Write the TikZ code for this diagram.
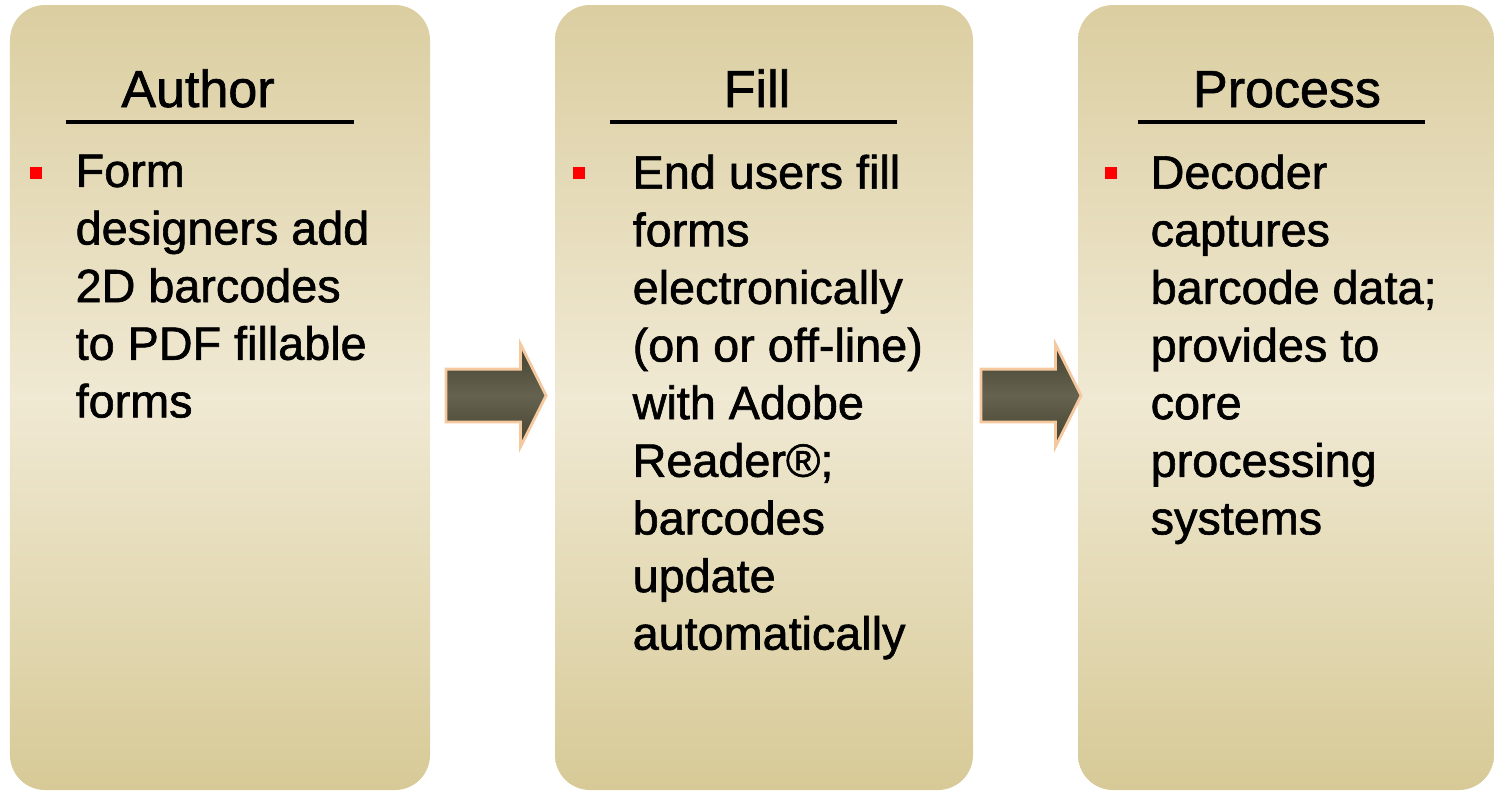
\documentclass[tikz,border=0pt]{standalone}
\usepackage{fontspec}
\setmainfont{Liberation Sans}[FakeBold=1.3]
\usetikzlibrary{shapes.arrows,calc}

\definecolor{paneltop}{HTML}{DBCEA1}
\definecolor{panelmid}{HTML}{F0E9D3}
\definecolor{panelbot}{HTML}{D7CA97}
\definecolor{arrowdark}{HTML}{44412F}
\definecolor{arrowmid}{HTML}{666250}
\definecolor{arrowrim}{HTML}{F5C9A0}

\begin{document}
\begin{tikzpicture}[panel/.style={rectangle, rounded corners=0.35cm, minimum height=7.85cm,
        top color=paneltop, bottom color=panelbot, middle color=panelmid, inner sep=0},
    head/.style={anchor=base, inner sep=0, font=\fontsize{14.8}{17}\selectfont},
    body/.style={anchor=north west, inner sep=0, align=left,
        font=\fontsize{13.3}{16.4}\selectfont},
    bul/.style={rectangle, fill=red, minimum size=0.12cm, inner sep=0},
    flow/.style={single arrow, draw=arrowrim, line width=0.8pt, minimum height=1cm,
        minimum width=1cm, single arrow head extend=0.25cm, single arrow tip angle=127,
        inner xsep=0, inner ysep=0.25cm, top color=arrowdark, bottom color=arrowdark,
        middle color=arrowmid}]
\useasboundingbox (0,0) rectangle (14.94,7.90);

% panels
\node[panel, minimum width=4.20cm] (author) at (2.20,3.925) {};
\node[panel, minimum width=4.18cm] (fill) at (7.64,3.925) {};
\node[panel, minimum width=4.16cm] (process) at (12.86,3.925) {};

% headings
\node[head] (authorhd) at (1.98,6.83) {Author};
\node[head] (fillhd) at (7.57,6.83) {Fill};
\node[head] (processhd) at (12.87,6.83) {Process};
\draw[line width=0.9pt] (0.66,6.68) -- (3.54,6.68)
      (6.10,6.68) -- (8.97,6.68)
      (11.38,6.68) -- (14.25,6.68);

% bullets and text
\node[bul] (authorbul) at (0.36,6.17) {};
\node[bul] (fillbul) at (5.79,6.17) {};
\node[bul] (processbul) at (11.11,6.17) {};

\node[body] (authortx) at (0.75,6.36) {Form\\ designers add\\ 2D barcodes\\
      to PDF fillable\\ forms};
\node[body] (filltx) at (6.32,6.36) {End users fill\\ forms\\ electronically\\
      (on or off-line)\\ with Adobe\\ Reader®;\\ barcodes\\ update\\ automatically};
\node[body] (processtx) at (11.50,6.36) {Decoder\\ captures\\ barcode data;\\
      provides to\\ core\\ processing\\ systems};

% arrows
\node[flow] (step1) at ($(author.east)!0.5!(fill.west)+(-0.03,0.02)$) {};
\node[flow] (step2) at ($(fill.east)!0.5!(process.west)+(-0.01,0.02)$) {};

\end{tikzpicture}
\end{document}
